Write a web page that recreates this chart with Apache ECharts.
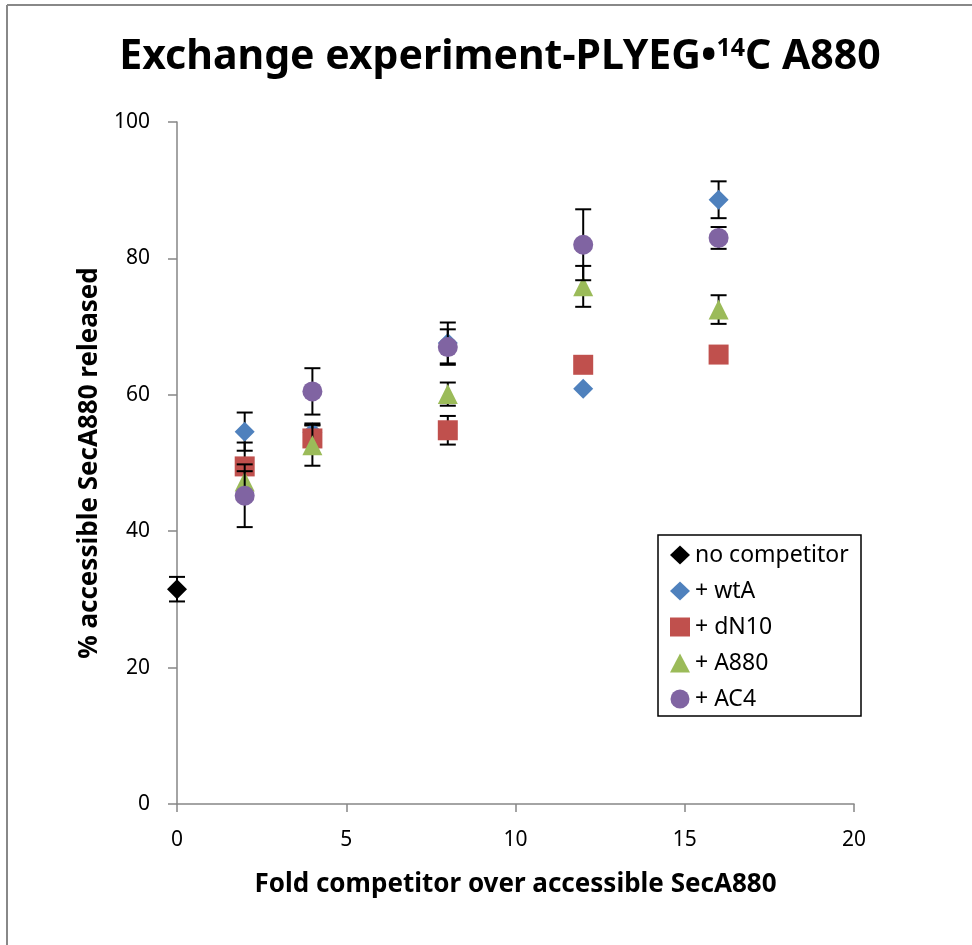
<!DOCTYPE html>
<html>
<head>
<meta charset="utf-8">
<script src="https://cdn.jsdelivr.net/npm/echarts@6/dist/echarts.min.js"></script>
<style>
  html, body { margin: 0; padding: 0; background: #fff; }
  #chart { width: 972px; height: 945px; }
</style>
</head>
<body>
<div id="chart"></div>
<script>
// Fold competitor levels (x) and % accessible SecA880 released (y) with error bars
const foldLevels = [2, 4, 8, 12, 16];

const noCompX = [0];
const noCompValues = [31.5];
const noCompErr = [1.8];

const wtAValues = [54.6, 54.5, 67.6, 60.9, 88.6];
const wtAErr = [2.8, 1.0, 3.0, 0, 2.7];

const dN10Values = [49.5, 53.6, 54.8, 64.4, 65.9];
const dN10Err = [3.5, 2.2, 2.1, 0, 0];

const a880Values = [47.3, 52.6, 60.1, 75.9, 72.5];
const a880Err = [1.5, 3.0, 1.7, 3.0, 2.1];

const ac4Values = [45.2, 60.5, 67.0, 82.0, 83.0];
const ac4Err = [4.6, 3.4, 2.6, 5.2, 1.6];

const seriesNames = ['no competitor', '+ wtA', '+ dN10', '+ A880', '+ AC4'];
const xTicks = { min: 0, max: 20, interval: 5 };
const yTicks = { min: 0, max: 100, interval: 20 };

const FONT = '"Noto Sans", "DejaVu Sans", sans-serif';

function points(xs, ys) { return xs.map((x, i) => [x, ys[i]]); }
function errPoints(xs, ys, es) { return xs.map((x, i) => [x, ys[i], es[i]]); }

const groups = [
  { name: seriesNames[0], xs: noCompX, ys: noCompValues, es: noCompErr, symbol: 'diamond', color: '#000000' },
  { name: seriesNames[1], xs: foldLevels, ys: wtAValues, es: wtAErr, symbol: 'diamond', color: '#4F81BD' },
  { name: seriesNames[2], xs: foldLevels, ys: dN10Values, es: dN10Err, symbol: 'rect', color: '#C0504D' },
  { name: seriesNames[3], xs: foldLevels, ys: a880Values, es: a880Err, symbol: 'triangle', color: '#9BBB59' },
  { name: seriesNames[4], xs: foldLevels, ys: ac4Values, es: ac4Err, symbol: 'circle', color: '#8064A2' }
];

// Vertical error bar with caps
function renderErrorBar(params, api) {
  const x = api.value(0), y = api.value(1), e = api.value(2);
  if (!e) return null;
  const top = api.coord([x, y + e]);
  const bot = api.coord([x, y - e]);
  const hw = 8;
  const style = { stroke: '#000', lineWidth: 2 };
  return {
    type: 'group',
    children: [
      { type: 'line', shape: { x1: top[0], y1: top[1], x2: bot[0], y2: bot[1] }, style },
      { type: 'line', shape: { x1: top[0] - hw, y1: top[1], x2: top[0] + hw, y2: top[1] }, style },
      { type: 'line', shape: { x1: bot[0] - hw, y1: bot[1], x2: bot[0] + hw, y2: bot[1] }, style }
    ]
  };
}

const series = [];
groups.forEach((g, i) => {
  series.push({
    type: 'custom',
    name: g.name + ' error',
    renderItem: renderErrorBar,
    data: errPoints(g.xs, g.ys, g.es),
    z: 2 + i * 2,
    silent: true
  });
  series.push({
    type: 'scatter',
    name: g.name,
    data: points(g.xs, g.ys),
    symbol: g.symbol,
    symbolSize: 20,
    itemStyle: { color: g.color, opacity: 1 },
    z: 3 + i * 2
  });
});

const axisColor = '#868686';

const option = {
  animation: false,
  backgroundColor: '#fff',
  title: {
    text: 'Exchange experiment-PLYEG•{sup|14}C A880',
    left: 495,
    textAlign: 'center',
    top: 31,
    textStyle: {
      fontFamily: FONT,
      fontWeight: 'bold',
      fontSize: 41,
      color: '#000',
      rich: {
        sup: { fontFamily: FONT, fontWeight: 'bold', fontSize: 25, verticalAlign: 'top', padding: [0, 0, 18, 0], color: '#000' }
      }
    }
  },
  grid: { left: 177, right: 118, top: 122, bottom: 141, containLabel: false },
  xAxis: {
    type: 'value',
    min: xTicks.min, max: xTicks.max, interval: xTicks.interval,
    name: 'Fold competitor over accessible SecA880',
    nameLocation: 'middle',
    nameGap: 68,
    nameTextStyle: { fontFamily: FONT, fontWeight: 'bold', fontSize: 26, color: '#000' },
    axisLine: { show: true, lineStyle: { color: axisColor, width: 1.5 } },
    axisTick: { show: true, length: 8, lineStyle: { color: axisColor, width: 1.5 } },
    axisLabel: { fontFamily: FONT, fontSize: 21, color: '#000', margin: 26 },
    splitLine: { show: false }
  },
  yAxis: {
    type: 'value',
    min: yTicks.min, max: yTicks.max, interval: yTicks.interval,
    name: '% accessible SecA880 released',
    nameLocation: 'middle',
    nameGap: 70,
    nameTextStyle: { fontFamily: FONT, fontWeight: 'bold', fontSize: 26, color: '#000' },
    axisLine: { show: true, lineStyle: { color: axisColor, width: 1.5 } },
    axisTick: { show: true, length: 9, lineStyle: { color: axisColor, width: 1.5 } },
    axisLabel: { fontFamily: FONT, fontSize: 21, color: '#000', margin: 27 },
    splitLine: { show: false }
  },
  legend: {
    data: seriesNames,
    orient: 'vertical',
    left: 670,
    top: 541,
    itemWidth: 20,
    itemHeight: 19,
    itemGap: 8,
    padding: 0,
    textStyle: { fontFamily: FONT, fontSize: 23, color: '#000', lineHeight: 28 }
  },
  graphic: [
    { type: 'rect', shape: { x: 658, y: 535, width: 203, height: 181 }, style: { fill: null, stroke: '#000', lineWidth: 1.5 }, z: 100 },
    { type: 'line', shape: { x1: 7, y1: 5, x2: 7, y2: 945 }, style: { stroke: '#888', lineWidth: 2 } },
    { type: 'line', shape: { x1: 7, y1: 5, x2: 972, y2: 5 }, style: { stroke: '#888', lineWidth: 2 } }
  ],
  series: series
};

const chart = echarts.init(document.getElementById('chart'), null, { renderer: 'canvas' });
chart.setOption(option);
</script>
</body>
</html>
